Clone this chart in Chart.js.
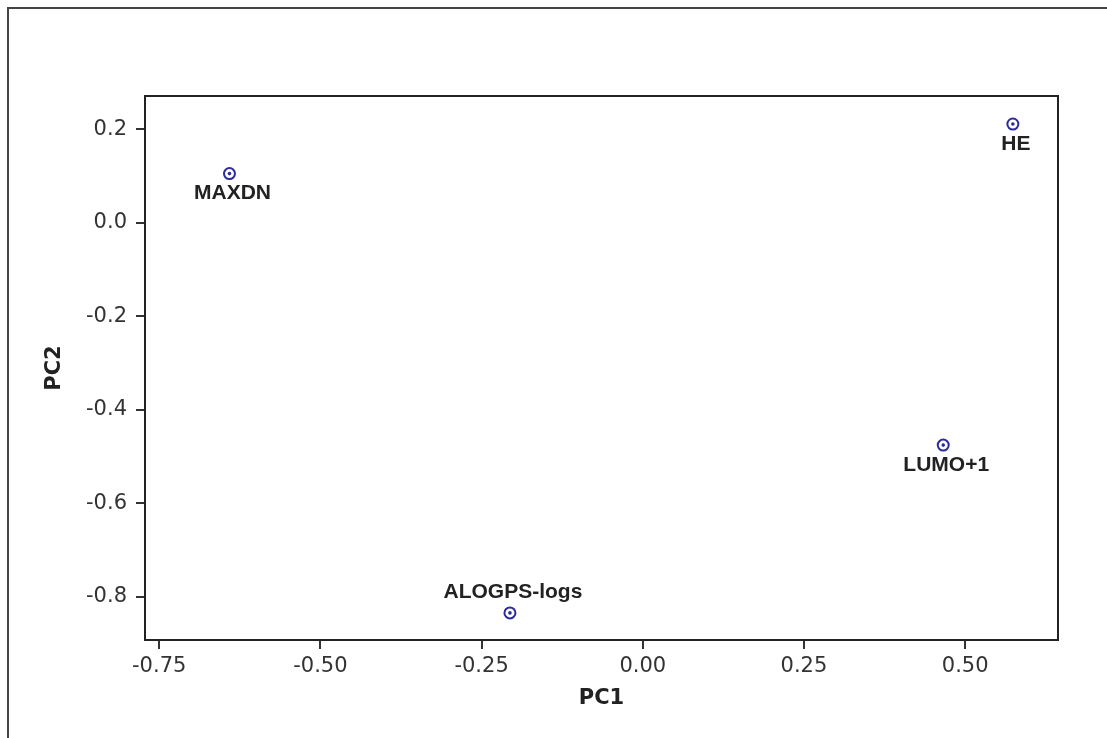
<!DOCTYPE html>
<html>
<head>
<meta charset="utf-8">
<title>PCA loadings</title>
<script src="https://cdn.jsdelivr.net/npm/chart.js@4.4.1/dist/chart.umd.min.js"></script>
<style>
  body { margin: 0; background: #fff; }
  #wrap { width: 1107px; height: 738px; }
</style>
</head>
<body>
<div id="wrap"><canvas id="pcaChart" width="1107" height="738"></canvas></div>
<script>
// Data
const names = ['MAXDN', 'HE', 'LUMO+1', 'ALOGPS-logs'];
const pc1 = [-0.641, 0.574, 0.466, -0.206];
const pc2 = [0.105, 0.211, -0.476, -0.835];
const xTicks = [-0.75, -0.5, -0.25, 0, 0.25, 0.5];
const yTicks = [0.2, 0, -0.2, -0.4, -0.6, -0.8];

// label goes above the marker only for this one
const labelsAbove = ['ALOGPS-logs'];

const points = names.map((n, i) => ({ x: pc1[i], y: pc2[i] }));
const markColor = '#2b2b9c';
const inkColor = '#222';

// Outer frame, plot box and the point names
const framePlugin = {
  id: 'frame',
  beforeDraw(chart) {
    const ctx = chart.ctx;
    ctx.save();
    ctx.fillStyle = '#fff';
    ctx.fillRect(0, 0, chart.width, chart.height);
    ctx.strokeStyle = '#444';
    ctx.lineWidth = 2;
    ctx.beginPath();
    ctx.moveTo(8, chart.height);
    ctx.lineTo(8, 8);
    ctx.lineTo(chart.width, 8);
    ctx.stroke();
    ctx.restore();
  },
  afterDraw(chart) {
    const { ctx, chartArea: a } = chart;
    ctx.save();
    ctx.strokeStyle = inkColor;
    ctx.lineWidth = 2;
    ctx.strokeRect(a.left, a.top, a.right - a.left, a.bottom - a.top);
    ctx.restore();
  },
  afterDatasetsDraw(chart) {
    const ctx = chart.ctx;
    const xs = chart.scales.x, ys = chart.scales.y;
    ctx.save();
    ctx.font = 'bold 21px "Liberation Sans", Arial, sans-serif';
    ctx.fillStyle = inkColor;
    ctx.textAlign = 'center';
    ctx.textBaseline = 'middle';
    names.forEach((n, i) => {
      const px = xs.getPixelForValue(pc1[i]);
      const py = ys.getPixelForValue(pc2[i]);
      const dy = labelsAbove.includes(n) ? -21 : 20;
      ctx.fillText(n, px + 3, py + dy);
    });
    ctx.restore();
  }
};

const tickFont = { family: '"DejaVu Sans", Verdana, sans-serif', size: 21 };
const titleFont = { family: '"DejaVu Sans", Verdana, sans-serif', size: 21, weight: 'bold' };

new Chart(document.getElementById('pcaChart'), {
  type: 'scatter',
  data: {
    datasets: [{
      data: points,
      pointRadius: 5.5,
      pointBorderWidth: 2,
      pointBorderColor: markColor,
      pointBackgroundColor: 'rgba(255,255,255,0)',
      showLine: false
    },
    {
      data: points,
      pointRadius: 1.8,
      pointBorderWidth: 0,
      pointBackgroundColor: markColor,
      showLine: false
    }]
  },
  options: {
    responsive: false,
    animation: false,
    layout: { padding: { top: 96, right: 49, left: 0, bottom: 0 } },
    plugins: {
      legend: { display: false },
      tooltip: { enabled: false }
    },
    scales: {
      x: {
        type: 'linear',
        min: -0.772,
        max: 0.644,
        afterFit: (s) => { s.height = 98; },
        afterBuildTicks: (s) => { s.ticks = xTicks.map(v => ({ value: v })); },
        ticks: {
          color: '#333',
          font: tickFont,
          padding: 5,
          maxRotation: 0,
          callback: (v) => Number(v).toFixed(2)
        },
        grid: { drawOnChartArea: false, drawTicks: true, tickLength: 9, color: '#333', lineWidth: 2 },
        border: { display: false },
        title: { display: true, text: 'PC1', color: inkColor, font: titleFont, padding: { top: 0, bottom: 27 } }
      },
      y: {
        type: 'linear',
        min: -0.893,
        max: 0.271,
        afterFit: (s) => { s.width = 145; },
        afterBuildTicks: (s) => { s.ticks = yTicks.map(v => ({ value: v })); },
        ticks: {
          color: '#333',
          font: tickFont,
          padding: 9,
          callback: (v) => Number(v).toFixed(1)
        },
        grid: { drawOnChartArea: false, drawTicks: true, tickLength: 9, color: '#333', lineWidth: 2 },
        border: { display: false },
        title: { display: true, text: 'PC2', color: inkColor, font: titleFont, padding: { top: 42, bottom: 0 } }
      }
    }
  },
  plugins: [framePlugin]
});
</script>
</body>
</html>
